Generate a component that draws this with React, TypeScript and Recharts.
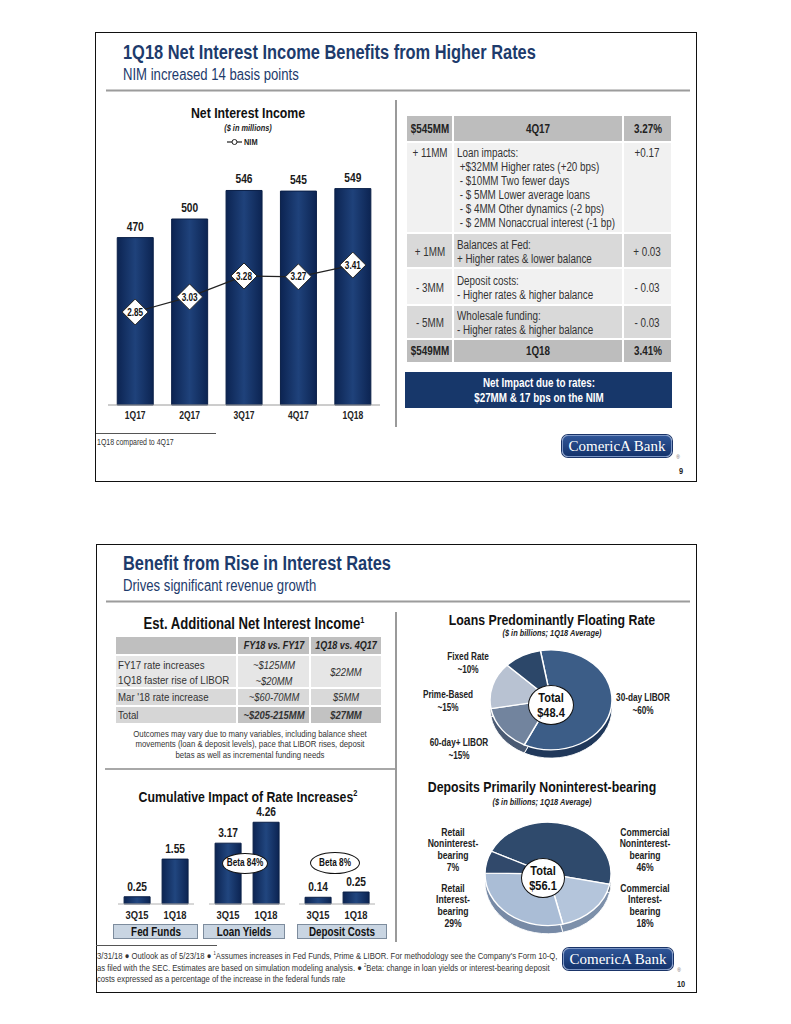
import React from 'react';
import {
  ComposedChart,
  BarChart,
  Bar,
  Line,
  XAxis,
  YAxis,
  LabelList,
  PieChart,
  Pie,
  Cell,
} from 'recharts';

const FONT = '"Liberation Sans", Arial, sans-serif';
const NAVY = '#1d3b6c';
const NARROW = 0.82; // no Arial Narrow installed, so squeeze Liberation Sans

// ── Data ────────────────────────────────────────────────────
const niiQuarters = ['1Q17', '2Q17', '3Q17', '4Q17', '1Q18'];
const niiValues = [470, 500, 546, 545, 549];
const nimValues = [2.85, 3.03, 3.28, 3.27, 3.41];

const bridgeStart = ['$545MM', '4Q17', '3.27%'];
const bridgeEnd = ['$549MM', '1Q18', '3.41%'];
const bridgeAmounts = ['+ 11MM', '+ 1MM', '- 3MM', '- 5MM'];
const bridgeNim = ['+0.17', '+ 0.03', '- 0.03', '- 0.03'];
const bridgeText = [
  ['Loan impacts:', ' +$32MM Higher rates (+20 bps)', ' - $10MM Two fewer days', ' - $ 5MM Lower average loans', ' - $ 4MM Other dynamics (-2 bps)', ' - $ 2MM Nonaccrual interest (-1 bp)'],
  ['Balances at Fed:', '+ Higher rates & lower balance'],
  ['Deposit costs:', '- Higher rates & higher balance'],
  ['Wholesale funding:', '- Higher rates & higher balance'],
];

const estHeaders = ['', 'FY18 vs. FY17', '1Q18 vs. 4Q17'];
const estRows = ['FY17 rate increases', '1Q18 faster rise of LIBOR', "Mar '18 rate increase", 'Total'];
const estFy = ['~$125MM', '~$20MM', '~$60-70MM', '~$205-215MM'];
const estQtr = ['$22MM', '$5MM', '$27MM'];

const ratePeriods = ['3Q15', '1Q18'];
const rateGroups = ['Fed Funds', 'Loan Yields', 'Deposit Costs'];
const fedFunds = [0.25, 1.55];
const loanYields = [3.17, 4.26];
const depositCosts = [0.14, 0.25];

const loanSegments = ['30-day LIBOR', '60-day+ LIBOR', 'Prime-Based', 'Fixed Rate'];
const loanShares = [60, 15, 15, 10];
const loanTotal = '$48.4';

const depositSegments = ['Commercial Noninterest-bearing', 'Commercial Interest-bearing', 'Retail Interest-bearing', 'Retail Noninterest-bearing'];
const depositShares = [46, 18, 29, 7];
const depositTotal = '$56.1';

const niiData = niiQuarters.map((q, i) => ({ quarter: q, nii: niiValues[i], nim: nimValues[i] }));

// ── Helpers ─────────────────────────────────────────────────
const squeeze = (x: number, k = NARROW) => `translate(${x} 0) scale(${k} 1) translate(${-x} 0)`;

type TxtProps = {
  x: number;
  y: number;
  children: React.ReactNode;
  size?: number;
  bold?: boolean;
  italic?: boolean;
  color?: string;
  align?: 'left' | 'center' | 'right';
  k?: number;
};

function Txt({ x, y, children, size = 12, bold = false, italic = false, color = '#222', align = 'center', k = NARROW }: TxtProps) {
  const lh = Math.round(size * 1.2);
  const style: React.CSSProperties = {
    position: 'absolute',
    top: y - lh / 2,
    left: x,
    lineHeight: lh + 'px',
    fontSize: size,
    fontWeight: bold ? 700 : 400,
    fontStyle: italic ? 'italic' : 'normal',
    color,
    whiteSpace: 'pre',
    fontFamily: FONT,
  };
  if (align === 'center') {
    style.transform = `translateX(-50%) scaleX(${k})`;
  } else if (align === 'left') {
    style.transform = `scaleX(${k})`;
    style.transformOrigin = 'left center';
  } else {
    style.transform = `translateX(-100%) scaleX(${k})`;
    style.transformOrigin = 'right center';
  }
  return <div style={style}>{children}</div>;
}

function Rect({ x, y, w, h, bg, style }: { x: number; y: number; w: number; h: number; bg: string; style?: React.CSSProperties }) {
  return <div style={{ position: 'absolute', left: x, top: y, width: w, height: h, background: bg, ...style }} />;
}

function Logo({ x, y }: { x: number; y: number }) {
  return (
    <>
      <div
        style={{
          position: 'absolute',
          left: x,
          top: y,
          width: 108,
          height: 20,
          borderRadius: 6,
          background: 'linear-gradient(#2f5597, #14336c)',
          border: '1.5px solid #7d97c6',
          boxShadow: '0 0 0 1px #1a3468',
          color: '#fff',
          fontFamily: '"Liberation Serif", "DejaVu Serif", serif',
          fontSize: 15,
          lineHeight: '20px',
          textAlign: 'center',
          whiteSpace: 'nowrap',
        }}
      >
        ComericA Bank
      </div>
      <Txt x={x + 116} y={y + 22} size={6} color="#666">®</Txt>
    </>
  );
}

function SlideHeader({ y, title, sub }: { y: number; title: string; sub: string }) {
  return (
    <>
      <Txt x={123} y={y} size={20} bold color={NAVY} align="left">{title}</Txt>
      <Txt x={123} y={y + 22} size={16} color={NAVY} align="left">{sub}</Txt>
      <Rect x={106} y={y + 37} w={584} h={3} bg="linear-gradient(#e4e4e4, #9c9c9c, #e4e4e4)" />
    </>
  );
}

// ── SVG pieces for Recharts ─────────────────────────────────
const NarrowTick = (props: any) => {
  const { x, y, payload, size = 10 } = props;
  return (
    <text x={x} y={y} dy="0.71em" textAnchor="middle" fontSize={size} fontWeight={700} fill="#222" fontFamily={FONT} transform={squeeze(x, 0.85)}>
      {payload.value}
    </text>
  );
};

const topLabel = (gap: number, fmt: (v: number) => string) => (props: any) => {
  const { x, y, width, value } = props;
  const cx = Number(x) + Number(width) / 2;
  return (
    <text x={cx} y={Number(y) - gap} textAnchor="middle" fontSize={12} fontWeight={700} fill="#1a1a1a" fontFamily={FONT} transform={squeeze(cx, 0.85)}>
      {fmt(Number(value))}
    </text>
  );
};

const NimDot = (props: any) => {
  const { cx, cy, payload, index } = props;
  if (cx == null || cy == null) return <g key={index} />;
  const s = 13;
  return (
    <g key={index}>
      <polygon
        points={`${cx},${cy - s} ${cx + s},${cy} ${cx},${cy + s} ${cx - s},${cy}`}
        fill="#fff"
        stroke="#222"
        strokeWidth={1}
      />
      <text x={cx} y={cy} dy="0.36em" textAnchor="middle" fontSize={10} fontWeight={700} fill="#111" fontFamily={FONT} transform={squeeze(cx)}>
        {payload.nim.toFixed(2)}
      </text>
    </g>
  );
};

function NiiChart() {
  return (
    <div style={{ position: 'absolute', left: 100, top: 100 }}>
      <ComposedChart width={290} height={330} data={niiData} margin={{ top: 57, right: 10, left: 8, bottom: 0 }} barCategoryGap="17%">
        <defs>
          <linearGradient id="niiGrad" x1="0" y1="0" x2="1" y2="0">
            <stop offset="0%" stopColor="#0c2452" />
            <stop offset="50%" stopColor="#1f427b" />
            <stop offset="100%" stopColor="#0c2452" />
          </linearGradient>
        </defs>
        <XAxis
          dataKey="quarter"
          interval={0}
          height={25}
          tickSize={5}
          tickLine={false}
          axisLine={{ stroke: '#9a9a9a' }}
          tick={(p: any) => <NarrowTick {...p} size={10} />}
        />
        <YAxis yAxisId="nii" hide domain={[200, 600]} />
        <YAxis yAxisId="nim" hide orientation="right" domain={[1.74, 4.7]} />
        <Bar yAxisId="nii" dataKey="nii" fill="url(#niiGrad)" stroke="#0a1f47" strokeWidth={1} isAnimationActive={false}>
          <LabelList dataKey="nii" content={topLabel(7, (v) => String(v))} />
        </Bar>
        <Line
          yAxisId="nim"
          dataKey="nim"
          stroke="#222"
          strokeWidth={1.2}
          dot={NimDot}
          activeDot={false}
          isAnimationActive={false}
        />
      </ComposedChart>
    </div>
  );
}

// ── Cumulative rate bars ────────────────────────────────────
function RateGroup({ values, center, max, id }: { values: number[]; center: number; max: number; id: string }) {
  const data = ratePeriods.map((p, i) => ({ period: p, value: values[i] }));
  return (
    <div style={{ position: 'absolute', left: center - 38, top: 800 }}>
      <BarChart width={76} height={124} data={data} margin={{ top: 0, right: 0, left: 0, bottom: 0 }} barCategoryGap="16%">
        <defs>
          <linearGradient id={id} x1="0" y1="0" x2="1" y2="0">
            <stop offset="0%" stopColor="#0c2452" />
            <stop offset="50%" stopColor="#21467f" />
            <stop offset="100%" stopColor="#0c2452" />
          </linearGradient>
        </defs>
        <XAxis
          dataKey="period"
          interval={0}
          height={20}
          tickSize={5}
          tickLine={false}
          axisLine={{ stroke: '#b0b0b0' }}
          tick={(p: any) => <NarrowTick {...p} size={11} />}
        />
        <YAxis hide domain={[0, max]} />
        <Bar dataKey="value" fill={`url(#${id})`} stroke="#0a1f47" strokeWidth={1} isAnimationActive={false}>
          <LabelList dataKey="value" content={topLabel(6, (v) => v.toFixed(2))} />
        </Bar>
      </BarChart>
    </div>
  );
}

// ── 3D-ish pies ─────────────────────────────────────────────
function Pie3D({
  cx,
  cy,
  r,
  names,
  shares,
  colors,
  sides,
  start,
}: {
  cx: number;
  cy: number;
  r: number;
  names: string[];
  shares: number[];
  colors: string[];
  sides: string[];
  start: number;
}) {
  const data = names.map((n, i) => ({ name: n, value: shares[i] }));
  return (
    <div style={{ position: 'absolute', left: cx - 70, top: cy - 70, transform: 'scaleY(0.82)', transformOrigin: '50% 50%' }}>
      <PieChart width={140} height={140} margin={{ top: 0, right: 0, bottom: 0, left: 0 }}>
        <Pie data={data} dataKey="value" cx={70} cy={75} outerRadius={r} startAngle={start} endAngle={start - 360} stroke="#fff" strokeWidth={1} isAnimationActive={false}>
          {data.map((_, i) => (
            <Cell key={i} fill={sides[i]} />
          ))}
        </Pie>
        <Pie data={data} dataKey="value" cx={70} cy={65} outerRadius={r} startAngle={start} endAngle={start - 360} stroke="#fff" strokeWidth={1.5} isAnimationActive={false}>
          {data.map((_, i) => (
            <Cell key={i} fill={colors[i]} />
          ))}
        </Pie>
      </PieChart>
    </div>
  );
}

function CenterBadge({ x, y, w, h, total }: { x: number; y: number; w: number; h: number; total: string }) {
  return (
    <>
      <div
        style={{
          position: 'absolute',
          left: x - w / 2,
          top: y - h / 2,
          width: w,
          height: h,
          borderRadius: '50%',
          background: '#fff',
          border: '1.5px solid #111',
          boxSizing: 'border-box',
        }}
      />
      <Txt x={x} y={y - 7} size={13} bold color="#111" k={0.85}>Total</Txt>
      <Txt x={x} y={y + 8} size={13} bold color="#111" k={0.85}>{total}</Txt>
    </>
  );
}

function Oval({ x, y, w, h, text }: { x: number; y: number; w: number; h: number; text: string }) {
  return (
    <>
      <div
        style={{
          position: 'absolute',
          left: x - w / 2,
          top: y - h / 2,
          width: w,
          height: h,
          borderRadius: '50%',
          background: '#fff',
          border: '1px solid #111',
          boxSizing: 'border-box',
        }}
      />
      <Txt x={x} y={y} size={10} bold color="#111">{text}</Txt>
    </>
  );
}

// ── Layout constants ────────────────────────────────────────
const t1Cols = [406, 453, 623, 672];
const t1Rows = [115, 142, 233, 268, 305, 339, 363];
const t1Bg = ['#bdbdbd', '#f1f1f1', '#d9d9d9', '#f1f1f1', '#d9d9d9', '#bdbdbd'];

const t2Cols = [115, 237, 310, 382];
const rateCenters = [156, 247, 337];
const rateMax = [3.59, 5.42, 2.17];
const rateBoxes = [
  [113, 198],
  [203, 285],
  [297, 387],
];

const loanLabelPos = [
  [643, 704],
  [459, 749],
  [448, 701],
  [468, 663],
];
const depositLabelPos = [
  [645, 832],
  [645, 888],
  [453, 888],
  [453, 832],
];

export default function App() {
  const rateSeries = [fedFunds, loanYields, depositCosts];
  return (
    <div
      style={{
        position: 'absolute',
        left: 0,
        top: 0,
        width: 791,
        height: 1024,
        background: '#fff',
        overflow: 'hidden',
        fontFamily: FONT,
      }}
    >
      {/* ── Slide 9 ── */}
      <div style={{ position: 'absolute', left: 95, top: 32, width: 602, height: 450, border: '1px solid #111', boxSizing: 'border-box' }} />
      <SlideHeader y={52} title="1Q18 Net Interest Income Benefits from Higher Rates" sub="NIM increased 14 basis points" />

      <Txt x={248} y={113} size={15} bold color="#111">Net Interest Income</Txt>
      <Txt x={248} y={128} size={9} bold italic color="#222">($ in millions)</Txt>
      <svg style={{ position: 'absolute', left: 227, top: 137 }} width={16} height={10}>
        <line x1={0} y1={5} x2={15} y2={5} stroke="#222" strokeWidth={1.2} />
        <circle cx={7.5} cy={5} r={2.5} fill="#fff" stroke="#222" strokeWidth={1} />
      </svg>
      <Txt x={244} y={142} size={9} bold color="#222" align="left">NIM</Txt>
      <NiiChart />
      <Rect x={395} y={100} w={1.5} h={327} bg="#9a9a9a" />

      {t1Bg.map((bg, r) =>
        [0, 1, 2].map((c) => (
          <Rect
            key={`${r}-${c}`}
            x={t1Cols[c] + 1}
            y={t1Rows[r] + 1}
            w={t1Cols[c + 1] - t1Cols[c] - 2}
            h={t1Rows[r + 1] - t1Rows[r] - 2}
            bg={bg}
          />
        ))
      )}
      {bridgeStart.map((s, c) => (
        <Txt key={s} x={(t1Cols[c] + t1Cols[c + 1]) / 2} y={128.5} size={12} bold color="#222">{s}</Txt>
      ))}
      {bridgeEnd.map((s, c) => (
        <Txt key={s} x={(t1Cols[c] + t1Cols[c + 1]) / 2} y={351} size={12} bold color="#222">{s}</Txt>
      ))}
      {bridgeAmounts.map((a, i) => {
        const top = t1Rows[i + 1];
        const bottom = t1Rows[i + 2];
        const yc = i === 0 ? top + 11 : (top + bottom) / 2 + 1;
        return (
          <React.Fragment key={a}>
            <Txt x={430} y={yc} size={12} color="#333">{a}</Txt>
            <Txt x={647} y={yc} size={12} color="#333">{bridgeNim[i]}</Txt>
            {bridgeText[i].map((line, j) => (
              <Txt key={j} x={457} y={i === 0 ? top + 11 + j * 14 : (top + bottom) / 2 - 6 + j * 14} size={12} color="#333" align="left">
                {line}
              </Txt>
            ))}
          </React.Fragment>
        );
      })}
      <Rect x={405} y={372} w={267} h={36} bg="#17376a" />
      <Txt x={538.5} y={383} size={12} bold color="#fff">Net Impact due to rates:</Txt>
      <Txt x={538.5} y={398} size={12} bold color="#fff">$27MM &amp; 17 bps on the NIM</Txt>

      <Rect x={96} y={433} w={120} h={1} bg="#555" />
      <Txt x={97} y={442} size={8.5} color="#333" align="left">1Q18 compared to 4Q17</Txt>
      <Logo x={562} y={435} />
      <Txt x={681} y={471} size={9} bold color="#222">9</Txt>

      {/* ── Slide 10 ── */}
      <div style={{ position: 'absolute', left: 96, top: 544, width: 601, height: 449, border: '1px solid #111', boxSizing: 'border-box' }} />
      <SlideHeader y={563} title="Benefit from Rise in Interest Rates" sub="Drives significant revenue growth" />

      <Txt x={254} y={620} size={16} bold color="#111">
        Est. Additional Net Interest Income<sup style={{ fontSize: 9 }}>1</sup>
      </Txt>
      {[0, 1, 2].map((c) => (
        <Rect key={c} x={t2Cols[c] + 1} y={637} w={t2Cols[c + 1] - t2Cols[c] - 2} h={17} bg="#bfbfbf" />
      ))}
      {estHeaders.map((h, c) =>
        h ? (
          <Txt key={c} x={(t2Cols[c] + t2Cols[c + 1]) / 2} y={645.5} size={11} bold italic color="#222">{h}</Txt>
        ) : null
      )}
      {[0, 1, 2].map((c) => (
        <Rect key={`a${c}`} x={t2Cols[c] + 1} y={656} w={t2Cols[c + 1] - t2Cols[c] - 2} h={31} bg="#e6e6e6" />
      ))}
      {[0, 1, 2].map((c) => (
        <Rect key={`b${c}`} x={t2Cols[c] + 1} y={689} w={t2Cols[c + 1] - t2Cols[c] - 2} h={16} bg="#d9d9d9" />
      ))}
      {[0, 1, 2].map((c) => (
        <Rect key={`c${c}`} x={t2Cols[c] + 1} y={707} w={t2Cols[c + 1] - t2Cols[c] - 2} h={16} bg={c === 0 ? '#d6d6d6' : '#c2c2c2'} />
      ))}
      {estRows.map((row, i) => {
        const y = [664.5, 680, 697, 715][i];
        const total = i === 3;
        return (
          <React.Fragment key={row}>
            <Txt x={118} y={y} size={11.8} color="#333" align="left">{row}</Txt>
            <Txt x={273.5} y={i === 1 ? 681 : y} size={11.5} italic bold={total} color="#333">{estFy[i]}</Txt>
          </React.Fragment>
        );
      })}
      <Txt x={346} y={672} size={11.5} italic color="#333">{estQtr[0]}</Txt>
      <Txt x={346} y={697} size={11.5} italic color="#333">{estQtr[1]}</Txt>
      <Txt x={346} y={715} size={11.5} italic bold color="#333">{estQtr[2]}</Txt>
      <Txt x={250} y={733} size={9.5} color="#333">Outcomes may vary due to many variables, including balance sheet</Txt>
      <Txt x={250} y={743.5} size={9.5} color="#333">movements (loan &amp; deposit levels), pace that LIBOR rises, deposit</Txt>
      <Txt x={250} y={754} size={9.5} color="#333">betas as well as incremental funding needs</Txt>
      <Rect x={105} y={768} w={290} h={2} bg="#a8a8a8" />
      <Rect x={395} y={612} w={1.5} h={330} bg="#9a9a9a" />

      <Txt x={248} y={793} size={15} bold color="#111">
        Cumulative Impact of Rate Increases<sup style={{ fontSize: 9 }}>2</sup>
      </Txt>
      {rateSeries.map((vals, g) => (
        <RateGroup key={g} values={vals} center={rateCenters[g]} max={rateMax[g]} id={`rateGrad${g}`} />
      ))}
      {rateGroups.map((name, g) => (
        <React.Fragment key={name}>
          <div
            style={{
              position: 'absolute',
              left: rateBoxes[g][0],
              top: 924,
              width: rateBoxes[g][1] - rateBoxes[g][0],
              height: 15,
              background: '#c9d5e2',
              border: '1px solid #7d8c9d',
              boxSizing: 'border-box',
            }}
          />
          <Txt x={(rateBoxes[g][0] + rateBoxes[g][1]) / 2} y={931.5} size={12} bold color="#111">{name}</Txt>
        </React.Fragment>
      ))}
      <Oval x={245} y={863} w={46} h={21} text="Beta 84%" />
      <Oval x={335} y={863} w={50} h={22} text="Beta 8%" />

      <Txt x={552} y={620} size={15} bold color="#111">Loans Predominantly Floating Rate</Txt>
      <Txt x={552} y={633} size={9} bold italic color="#222">($ in billions; 1Q18 Average)</Txt>
      <Pie3D
        cx={551}
        cy={704}
        r={61}
        names={loanSegments}
        shares={loanShares}
        colors={['#3c5d87', '#72849e', '#b8c2d2', '#2c4769']}
        sides={['#20385a', '#4a5a73', '#7e889c', '#1b2f4a']}
        start={100}
      />
      <CenterBadge x={551} y={705} w={46} h={40} total={loanTotal} />
      {loanSegments.map((name, i) => (
        <React.Fragment key={name}>
          <Txt x={loanLabelPos[i][0]} y={loanLabelPos[i][1] - 6.5} size={10} bold color="#222">{name}</Txt>
          <Txt x={loanLabelPos[i][0]} y={loanLabelPos[i][1] + 6.5} size={10} bold color="#222">{`~${loanShares[i]}%`}</Txt>
        </React.Fragment>
      ))}

      <Txt x={542} y={787} size={15} bold color="#111">Deposits Primarily Noninterest-bearing</Txt>
      <Txt x={542} y={802} size={9} bold italic color="#222">($ in billions; 1Q18 Average)</Txt>
      <Pie3D
        cx={548}
        cy={878}
        r={63}
        names={depositSegments}
        shares={depositShares}
        colors={['#2f4a6c', '#b4c5db', '#aabdd6', '#31496b']}
        sides={['#1c3049', '#7d90aa', '#778aa6', '#1c3049']}
        start={154}
      />
      <CenterBadge x={543} y={878} w={44} h={40} total={depositTotal} />
      {depositSegments.map((name, i) => {
        const [first, rest] = name.split(' ');
        const [a, b] = rest.split('-');
        const lines = [first, a + '-', b, `${depositShares[i]}%`];
        return lines.map((line, j) => (
          <Txt key={`${name}-${j}`} x={depositLabelPos[i][0]} y={depositLabelPos[i][1] + j * 11.7} size={10.5} bold color="#222">
            {line}
          </Txt>
        ));
      })}

      <Rect x={96} y={945} w={121} h={1} bg="#555" />
      <Txt x={97} y={955} size={9.4} color="#333" align="left">
        3/31/18 ● Outlook as of 5/23/18 ● <sup style={{ fontSize: 5, lineHeight: 0 }}>1</sup>Assumes increases in Fed Funds, Prime &amp; LIBOR. For methodology see the Company's Form 10-Q,
      </Txt>
      <Txt x={97} y={967} size={9.4} color="#333" align="left">
        as filed with the SEC. Estimates are based on simulation modeling analysis. ● <sup style={{ fontSize: 5, lineHeight: 0 }}>2</sup>Beta: change in loan yields or interest-bearing deposit
      </Txt>
      <Txt x={97} y={978.5} size={9.4} color="#333" align="left">
        costs expressed as a percentage of the increase in the federal funds rate
      </Txt>
      <Logo x={563} y={948} />
      <Txt x={681} y={984} size={9} bold color="#222">10</Txt>
    </div>
  );
}
